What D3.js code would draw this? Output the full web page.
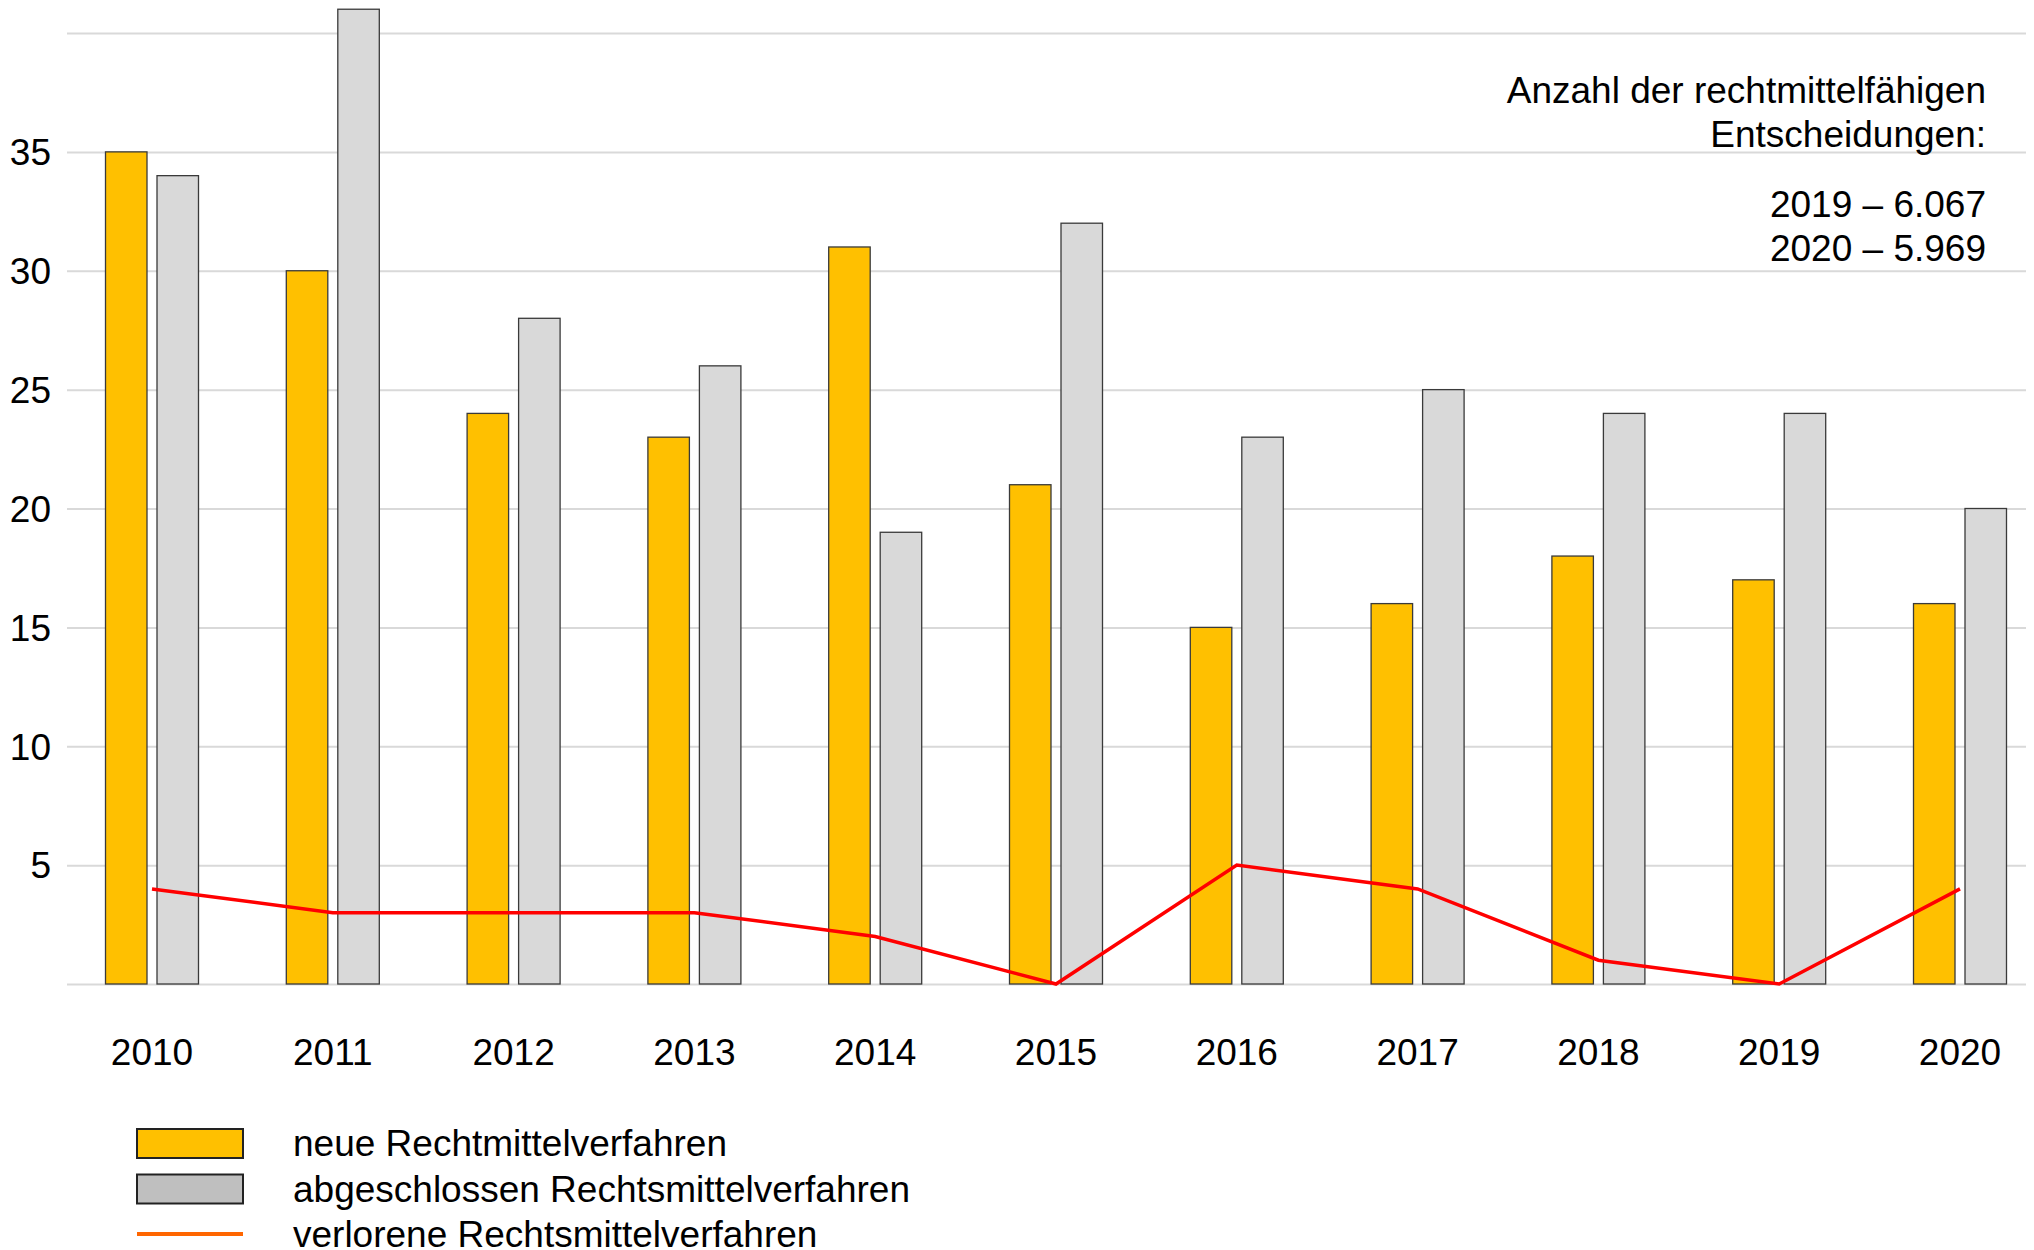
<!DOCTYPE html>
<html>
<head>
<meta charset="utf-8">
<script src="https://cdn.jsdelivr.net/npm/d3@7"></script>
<style>
body{ margin:0; background:#fff; }
svg text{ font-family:"Liberation Sans", Arial, sans-serif; fill:#000; }
.grid line{ stroke:#d9d9d9; stroke-width:2; }
.grid .domain{ display:none; }
</style>
</head>
<body>
<div id="chart"></div>
<script>
var years = ["2010","2011","2012","2013","2014","2015","2016","2017","2018","2019","2020"];
var neueVerfahren = [35, 30, 24, 23, 31, 21, 15, 16, 18, 17, 16];
var abgeschlossen = [34, 41, 28, 26, 19, 32, 23, 25, 24, 24, 20];
var verloren = [4, 3, 3, 3, 2, 0, 5, 4, 1, 0, 4];
var yTicks = [5, 10, 15, 20, 25, 30, 35];
var gridTicks = [0, 5, 10, 15, 20, 25, 30, 35, 40];
var noteLines = ["Anzahl der rechtmittelfähigen", "Entscheidungen:", "2019 – 6.067", "2020 – 5.969"];
var legendItems = [
	{label: "neue Rechtmittelverfahren", type: "rect", fill: "#ffc000"},
	{label: "abgeschlossen Rechtsmittelverfahren", type: "rect", fill: "#bfbfbf"},
	{label: "verlorene Rechtsmittelverfahren", type: "line", fill: "#ff6600"}
];

var W = 2034, H = 1250;
var svg = d3.select("#chart").append("svg").attr("width", W).attr("height", H);

var x = d3.scalePoint().domain(years).range([152, 1960]);
var y = d3.scaleLinear().domain([0, 40]).range([984, 33]);
var barW = 41.5, gap = 10;

// gridlines
svg.append("g").attr("class", "grid")
		.attr("transform", "translate(67,0)")
		.call(d3.axisRight(y).tickValues(gridTicks).tickSize(1959).tickFormat(""));

// y labels
svg.append("g").selectAll("text").data(yTicks).enter().append("text")
		.attr("x", 51)
		.attr("y", function(d){ return y(d); })
		.attr("dy", "0.36em")
		.attr("text-anchor", "end")
		.style("font-size", "37px")
		.text(function(d){ return d; });

// bars
var groups = svg.append("g").selectAll("g").data(years).enter().append("g")
		.attr("transform", function(d){ return "translate(" + x(d) + ",0)"; });
groups.append("rect")
		.attr("x", -gap / 2 - barW)
		.attr("y", function(d, i){ return y(neueVerfahren[i]); })
		.attr("width", barW)
		.attr("height", function(d, i){ return y(0) - y(neueVerfahren[i]); })
		.attr("fill", "#ffc000")
		.attr("stroke", "#3a3a3a")
		.attr("stroke-width", 1.3);
groups.append("rect")
		.attr("x", gap / 2)
		.attr("y", function(d, i){ return y(abgeschlossen[i]); })
		.attr("width", barW)
		.attr("height", function(d, i){ return y(0) - y(abgeschlossen[i]); })
		.attr("fill", "#d9d9d9")
		.attr("stroke", "#3a3a3a")
		.attr("stroke-width", 1.3);

// x labels
svg.append("g").selectAll("text").data(years).enter().append("text")
		.attr("x", function(d){ return x(d); })
		.attr("y", 1065)
		.attr("text-anchor", "middle")
		.style("font-size", "37px")
		.text(function(d){ return d; });

// line
var line = d3.line()
		.x(function(d, i){ return x(years[i]); })
		.y(function(d){ return y(d); });
svg.append("path").datum(verloren)
		.attr("d", line)
		.attr("fill", "none")
		.attr("stroke", "#ff0000")
		.attr("stroke-width", 3.5);

// note (two blocks, blank line between)
svg.append("g").selectAll("text").data(noteLines).enter().append("text")
		.attr("x", 1986)
		.attr("y", function(d, i){ return 103 + i * 44 + (i >= 2 ? 26 : 0); })
		.attr("text-anchor", "end")
		.style("font-size", "37px")
		.text(function(d){ return d; });

// legend
var leg = svg.append("g").selectAll("g").data(legendItems).enter().append("g")
		.attr("transform", function(d, i){ return "translate(0," + (1143 + i * 45.5) + ")"; });
leg.filter(function(d){ return d.type == "rect"; }).append("rect")
		.attr("x", 137).attr("y", -14).attr("width", 106).attr("height", 29)
		.attr("fill", function(d){ return d.fill; })
		.attr("stroke", "#222").attr("stroke-width", 2);
leg.filter(function(d){ return d.type == "line"; }).append("line")
		.attr("x1", 137).attr("x2", 243).attr("y1", 0).attr("y2", 0)
		.attr("stroke", function(d){ return d.fill; }).attr("stroke-width", 4);
leg.append("text")
		.attr("x", 293).attr("y", 0).attr("dy", "0.36em")
		.style("font-size", "37px")
		.text(function(d){ return d.label; });
</script>
</body>
</html>
